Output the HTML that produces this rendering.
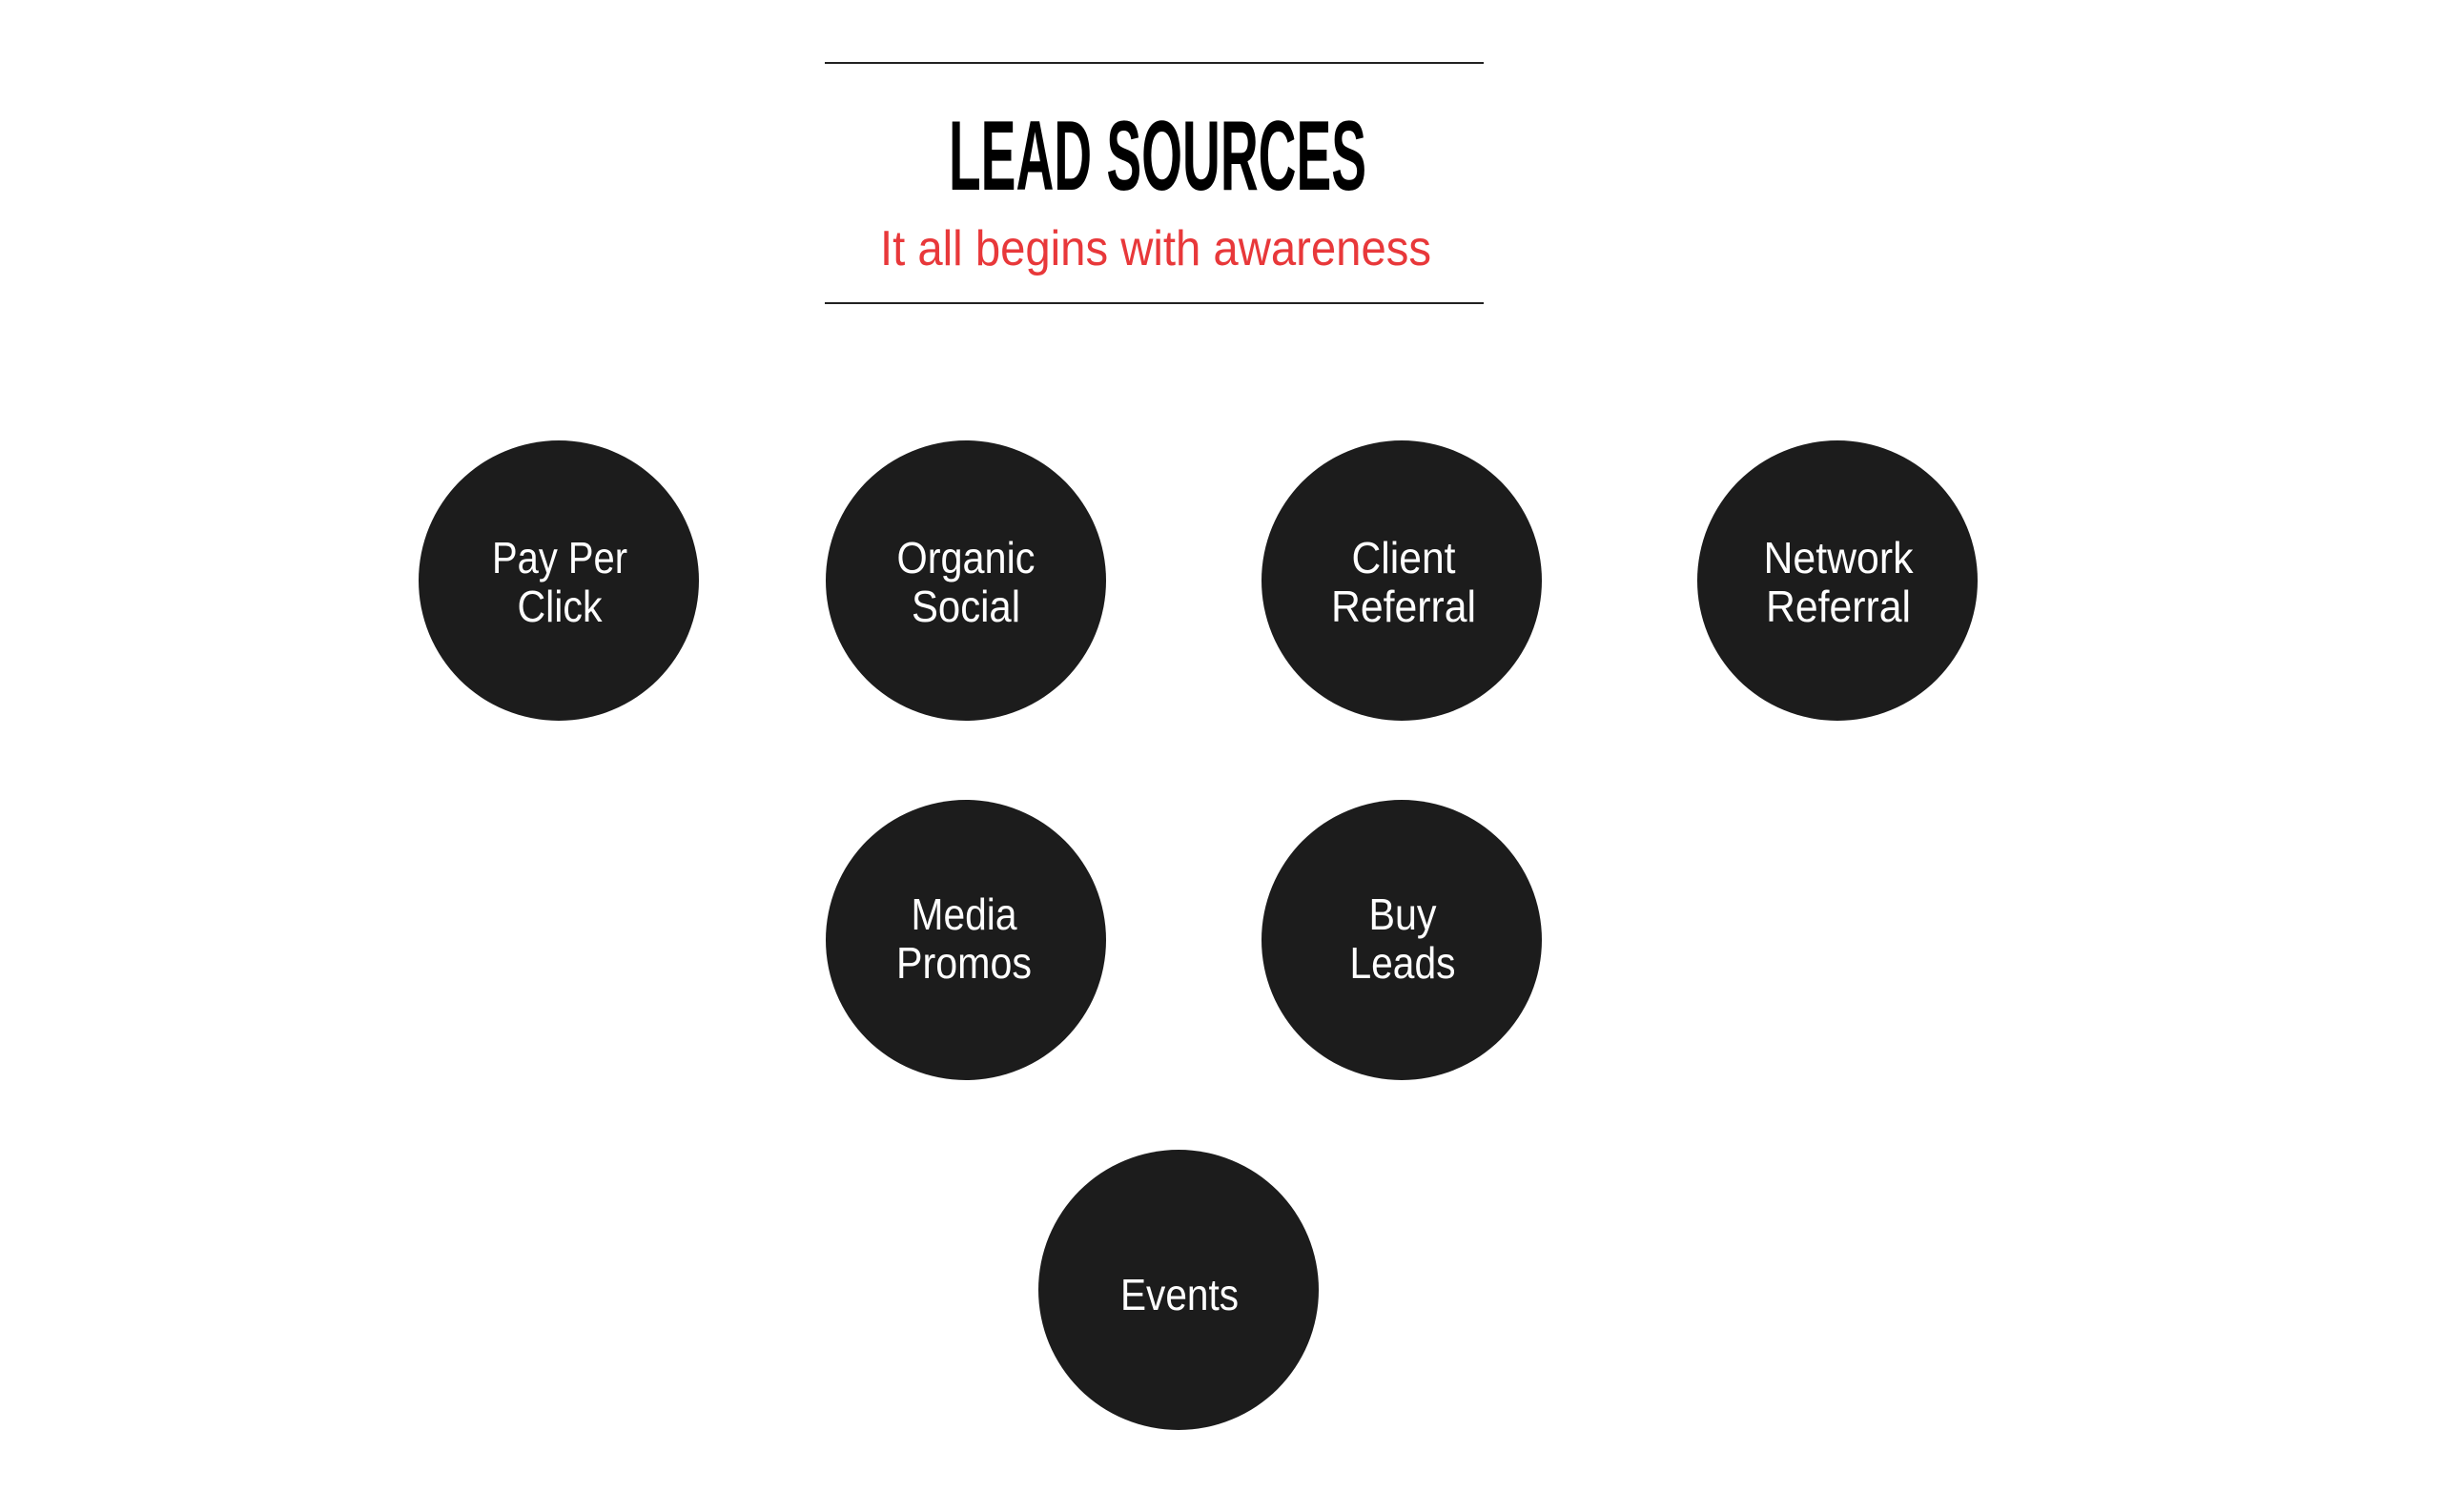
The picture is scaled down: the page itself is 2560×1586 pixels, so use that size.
<!DOCTYPE html>
<html><head><meta charset="utf-8"><style>html,body{margin:0;padding:0;background:#fff}svg{display:block}</style></head>
<body>
<svg width="2560" height="1586" viewBox="0 0 2560 1586" xmlns="http://www.w3.org/2000/svg" font-family="Liberation Sans, sans-serif">
<rect width="2560" height="1586" fill="#fff"/>
<line x1="865" y1="66" x2="1556" y2="66" stroke="#222" stroke-width="2"/>
<line x1="865" y1="318" x2="1556" y2="318" stroke="#222" stroke-width="2"/>
<text x="1214" y="199" text-anchor="middle" font-size="104" font-weight="bold" fill="#000" textLength="438" lengthAdjust="spacingAndGlyphs">LEAD SOURCES</text>
<text x="1212" y="278" text-anchor="middle" font-size="52" fill="#e8383a" textLength="578" lengthAdjust="spacingAndGlyphs">It all begins with awareness</text>
<g fill="#1c1c1c">
<circle cx="586" cy="609" r="147"/>
<circle cx="1013" cy="609" r="147"/>
<circle cx="1470" cy="609" r="147"/>
<circle cx="1927" cy="609" r="147"/>
<circle cx="1013" cy="986" r="147"/>
<circle cx="1470" cy="986" r="147"/>
<circle cx="1236" cy="1353" r="147"/>
</g>
<g fill="#fff" font-size="46" text-anchor="middle">
<text x="587" y="601" textLength="142" lengthAdjust="spacingAndGlyphs">Pay Per</text>
<text x="587" y="652" textLength="89" lengthAdjust="spacingAndGlyphs">Click</text>
<text x="1013" y="601" textLength="145" lengthAdjust="spacingAndGlyphs">Organic</text>
<text x="1013" y="652" textLength="114" lengthAdjust="spacingAndGlyphs">Social</text>
<text x="1472" y="601" textLength="109" lengthAdjust="spacingAndGlyphs">Client</text>
<text x="1472" y="652" textLength="152" lengthAdjust="spacingAndGlyphs">Referral</text>
<text x="1928" y="601" textLength="157" lengthAdjust="spacingAndGlyphs">Network</text>
<text x="1928" y="652" textLength="152" lengthAdjust="spacingAndGlyphs">Referral</text>
<text x="1011" y="975" textLength="111" lengthAdjust="spacingAndGlyphs">Media</text>
<text x="1011" y="1026" textLength="142" lengthAdjust="spacingAndGlyphs">Promos</text>
<text x="1471" y="975" textLength="71" lengthAdjust="spacingAndGlyphs">Buy</text>
<text x="1471" y="1026" textLength="111" lengthAdjust="spacingAndGlyphs">Leads</text>
<text x="1237" y="1374" textLength="124" lengthAdjust="spacingAndGlyphs">Events</text>
</g>
</svg>
</body></html>
